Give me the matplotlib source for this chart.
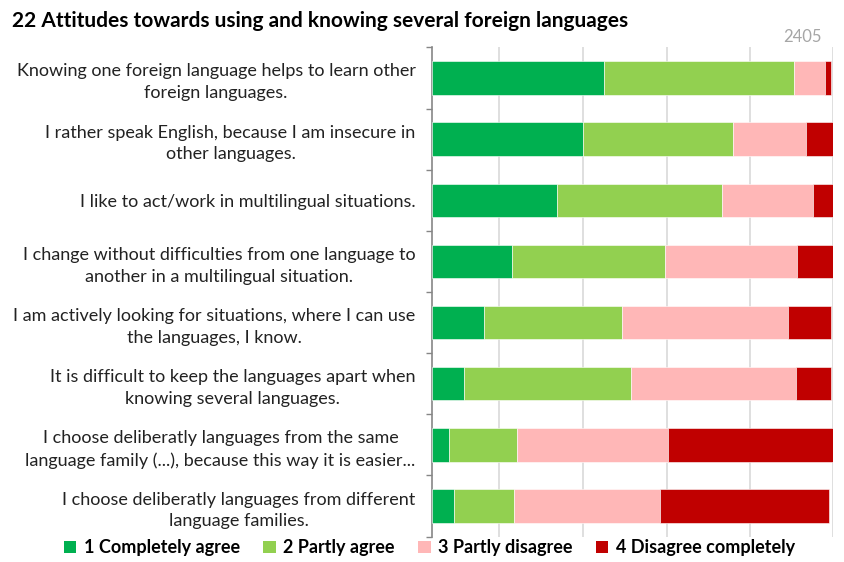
import numpy as np
import matplotlib.pyplot as plt
from matplotlib.patches import Patch

plt.rcParams['font.family'] = ['Lato', 'DejaVu Sans']

labels = [
    "Knowing one foreign language helps to learn other\nforeign languages.",
    "I rather speak English, because I am insecure in\nother languages.",
    "I like to act/work in multilingual situations.",
    "I change without difficulties from one language to\nanother in a multilingual situation.",
    "I am actively looking for situations, where I can use\nthe languages, I know.",
    "It is difficult to keep the languages apart when\nknowing several languages.",
    "I choose deliberatly languages from the same\nlanguage family (...), because this way it is easier...",
    "I choose deliberatly languages from different\nlanguage families.",
]
series = ["1 Completely agree", "2 Partly agree", "3 Partly disagree", "4 Disagree completely"]
agree = [42.8, 37.5, 31.2, 19.8, 13.0, 8.0, 4.1, 5.4]
partly_agree = [47.5, 37.6, 41.0, 38.1, 34.3, 41.6, 17.1, 15.0]
partly_disagree = [7.7, 18.1, 22.7, 33.1, 41.4, 41.0, 37.6, 36.5]
disagree = [1.4, 6.8, 4.9, 8.8, 10.6, 8.7, 41.0, 41.9]
colors = ['#00B050', '#92D050', '#FFB7B7', '#C00000']
grid_x = [16.6, 37.5, 58.5, 79.2, 100]

fig = plt.figure(figsize=(8.45, 5.62), dpi=100)
ax = fig.add_axes([0.5116, 0.0452, 0.4746, 0.8705])

y = np.arange(len(labels))
left = np.zeros(len(labels))
for vals, c, name in zip([agree, partly_agree, partly_disagree, disagree], colors, series):
    ax.barh(y, vals, left=left, height=0.545, color=c, edgecolor='white', linewidth=0.4, label=name, zorder=3)
    left += np.array(vals)

ax.set_xlim(0, 100)
ax.set_ylim(len(labels) - 0.5, -0.5)
ax.set_xticks(grid_x)
ax.set_xticklabels([])
ax.tick_params(axis='x', length=0)
ax.grid(axis='x', color='#d9d9d9', linewidth=1.2, zorder=0)

ax.set_yticks(y)
ax.set_yticklabels(labels, multialignment='center', fontsize=13, color='#222222', linespacing=1.45)
ax.tick_params(axis='y', which='major', length=0, pad=12)
ax.set_yticks(np.arange(-0.5, len(labels)), minor=True)
ax.tick_params(axis='y', which='minor', length=4, color='#868686', width=1)

for s in ['top', 'right', 'bottom']:
    ax.spines[s].set_visible(False)
ax.spines['left'].set_color('#868686')
ax.spines['left'].set_linewidth(1.2)

fig.text(0.014, 0.962, "22 Attitudes towards using and knowing several foreign languages",
         fontsize=15, fontweight='bold', va='center', ha='left')
fig.text(0.973, 0.934, "2405", fontsize=12, color='#a6a6a6', va='center', ha='right')

handles = [Patch(facecolor=c, edgecolor='none') for c in colors]
fig.legend(handles, series, loc='center', bbox_to_anchor=(0.508, 0.025), ncol=4, frameon=False,
           handlelength=0.7, handleheight=0.7, handletextpad=0.4, columnspacing=1.3,
           prop={'size': 13, 'weight': 'bold'})

fig.savefig('out.png', dpi=100)
